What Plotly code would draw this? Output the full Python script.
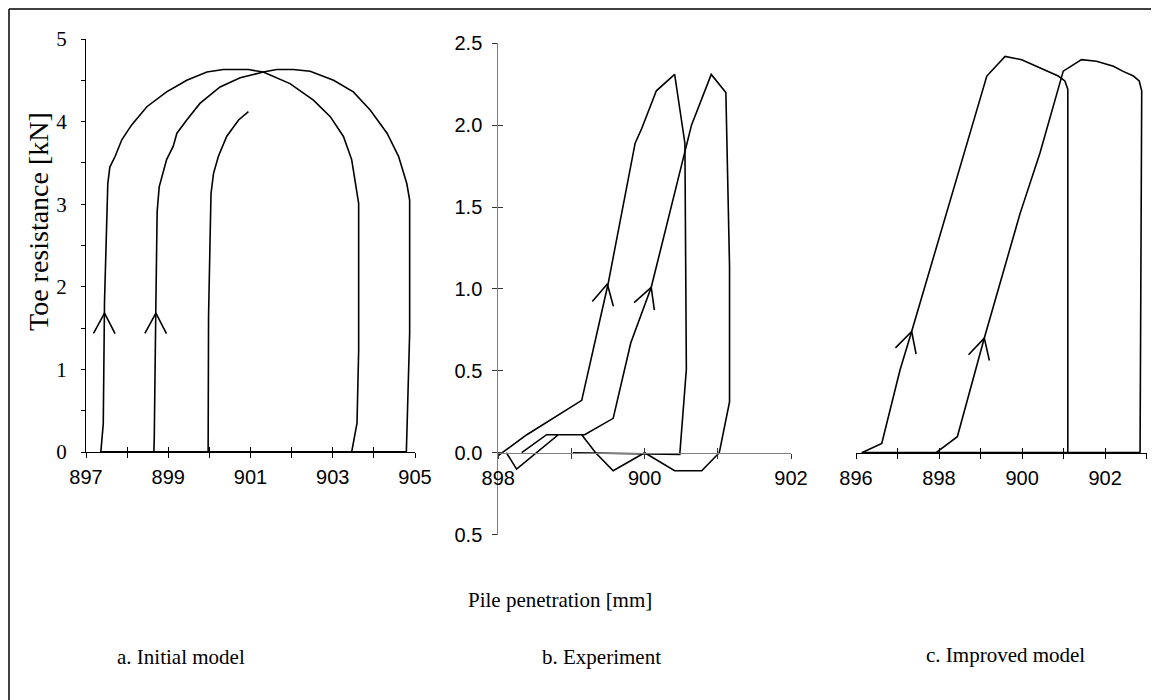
import numpy as np
import plotly.graph_objects as go

W, H = 1159, 700
OFF = 8  # page body margin in the browser

# ---------------- data (kN vs mm) ----------------
# a. Initial model
a1_x = [897.36, 897.38, 897.42, 897.45, 897.49, 897.53, 897.58, 897.71, 897.87, 898.11, 898.48, 898.96,
        899.45, 899.94, 900.34, 900.95, 901.31, 901.96, 902.53, 902.94, 903.26, 903.46, 903.63, 903.63,
        903.59, 903.46]
a1_y = [0, 0.10, 0.34, 1.82, 2.52, 3.25, 3.45, 3.58, 3.78, 3.96, 4.18, 4.36,
        4.50, 4.60, 4.63, 4.63, 4.60, 4.46, 4.26, 4.06, 3.82, 3.54, 3.01, 1.23,
        0.35, 0]
a2_x = [898.65, 898.66, 898.70, 898.73, 898.78, 898.86, 898.96, 899.12, 899.21, 899.45, 899.77, 900.26,
        900.75, 901.07, 901.31, 901.64, 902.04, 902.45, 903.02, 903.50, 903.91, 904.32, 904.60, 904.80,
        904.87, 904.87, 904.82, 904.79]
a2_y = [0, 0.18, 1.82, 2.91, 3.21, 3.37, 3.54, 3.70, 3.86, 4.02, 4.22, 4.42,
        4.53, 4.57, 4.60, 4.63, 4.63, 4.61, 4.50, 4.36, 4.14, 3.86, 3.58, 3.25,
        3.05, 1.44, 0.39, 0]
a3_x = [899.97, 899.98, 900.02, 900.04, 900.10, 900.22, 900.42, 900.71, 900.95]
a3_y = [0, 1.64, 2.65, 3.13, 3.37, 3.58, 3.82, 4.02, 4.12]
a_base_x = [897.36, 904.79]
a_base_y = [0, 0]
a_arrow_tips = [(897.45, 1.68, "a1"), (898.70, 1.68, "a2")]

# b. Experiment
b1_x = [897.93, 898.05, 898.39, 899.14, 899.50, 899.87, 899.96, 900.16, 900.41, 900.55, 900.57, 900.48, 899.02]
b1_y = [-0.04, 0.0, 0.11, 0.32, 1.03, 1.89, 1.98, 2.21, 2.31, 1.89, 0.51, -0.01, 0.0]
b2_x = [898.32, 898.66, 899.18, 899.57, 899.81, 900.09, 900.64, 900.91, 901.11, 901.16, 901.16, 901.02,
        900.78, 900.41, 900.00, 899.57, 899.33, 899.14, 898.82, 898.25, 898.11]
b2_y = [0.0, 0.11, 0.11, 0.21, 0.67, 1.01, 2.00, 2.31, 2.20, 1.14, 0.31, 0.0,
        -0.11, -0.11, 0.0, -0.11, 0.0, 0.11, 0.11, -0.10, 0.0]
b_arrow_tips = [(899.49, 1.03, "b1"), (900.09, 1.01, "b2")]

# c. Improved model
c1_x = [896.14, 896.62, 897.06, 897.34, 899.15, 899.59, 899.99, 900.63, 900.87, 901.03, 901.10, 901.10]
c1_y = [0, 0.057, 0.505, 0.74, 2.30, 2.42, 2.40, 2.33, 2.30, 2.27, 2.22, 0]
c2_x = [897.93, 898.44, 899.09, 899.95, 900.43, 900.99, 901.43, 901.79, 902.20, 902.42, 902.68, 902.82,
        902.88, 902.84]
c2_y = [0, 0.098, 0.70, 1.46, 1.83, 2.33, 2.40, 2.39, 2.36, 2.33, 2.30, 2.27,
        2.21, 0]
c_base_x = [896.14, 902.84]
c_base_y = [0, 0]
c_arrow_tips = [(897.34, 0.74, "c1"), (899.09, 0.70, "c2")]

# ticks
a_xticks = [897, 898, 899, 900, 901, 902, 903, 904, 905]
a_xlabels = ["897", "", "899", "", "901", "", "903", "", "905"]
a_yticks = [0, 0.5, 1, 1.5, 2, 2.5, 3, 3.5, 4, 4.5, 5]
a_ylabels = ["0", "", "1", "", "2", "", "3", "", "4", "", "5"]
b_xticks = [898, 899, 900, 901, 902]
b_xlabels = ["898", "", "900", "", "902"]
b_yticks = [-0.5, 0, 0.5, 1.0, 1.5, 2.0, 2.5]
b_ylabels = ["0.5", "0.0", "0.5", "1.0", "1.5", "2.0", "2.5"]
c_xticks = [896, 897, 898, 899, 900, 901, 902, 903]
c_xlabels = ["896", "", "898", "", "900", "", "902", ""]

# ---------------- geometry (screen pixels) ----------------
def px(x):
    return (x - OFF) / W


def py(y):
    return 1 - (y - OFF) / H


A_X = (86, 415)
A_Y = (452, 39)
B_X = (498.3, 791)
B_Y = (534.6, 43.3)
AXIS0_Y = 452.7
C_X = (856, 1146.7)

A_RANGE_X, A_RANGE_Y = [897, 905], [0, 5]
B_RANGE_X, B_RANGE_Y = [898, 902], [-0.5, 2.5]
C_RANGE_X, C_RANGE_Y = [896, 903], [-0.5, 2.5]


def scale(pxr, rng):
    return abs(pxr[1] - pxr[0]) / (rng[1] - rng[0])


sa = (scale(A_X, A_RANGE_X), scale(A_Y, A_RANGE_Y))
sb = (scale(B_X, B_RANGE_X), scale(B_Y, B_RANGE_Y))
sc = (scale(C_X, C_RANGE_X), scale(B_Y, C_RANGE_Y))


def arrow(cx, cy, tip, s, L=23, ang=28):
    sx, sy = s
    t = np.array([tip[0] * sx, tip[1] * sy])
    best = None
    for i in range(len(cx) - 1):
        p0 = np.array([cx[i] * sx, cy[i] * sy])
        p1 = np.array([cx[i + 1] * sx, cy[i + 1] * sy])
        d = p1 - p0
        dd = np.dot(d, d)
        if dd == 0:
            continue
        u = np.clip(np.dot(t - p0, d) / dd, 0, 1)
        dist = np.linalg.norm(p0 + u * d - t)
        if best is None or dist < best[0]:
            best = (dist, d)
    back = -best[1] / np.linalg.norm(best[1])
    xs, ys = [], []
    for sgn in (1, -1):
        a = np.radians(ang * sgn)
        r = np.array([back[0] * np.cos(a) - back[1] * np.sin(a),
                      back[0] * np.sin(a) + back[1] * np.cos(a)])
        e = t + L * r
        xs.append(e[0] / sx)
        ys.append(e[1] / sy)
    return [xs[0], tip[0], xs[1]], [ys[0], tip[1], ys[1]]


fig = go.Figure()


def add(x, y, xa, ya, w=1.6):
    fig.add_trace(go.Scatter(x=x, y=y, mode="lines", line=dict(color="black", width=w),
                             xaxis=xa, yaxis=ya, hoverinfo="skip", showlegend=False))


curves = {"a1": (a1_x, a1_y), "a2": (a2_x, a2_y), "b1": (b1_x, b1_y), "b2": (b2_x, b2_y),
          "c1": (c1_x, c1_y), "c2": (c2_x, c2_y)}

# panel a
add(a_base_x, a_base_y, "x", "y", 2)
for xx, yy in [(a1_x, a1_y), (a2_x, a2_y), (a3_x, a3_y)]:
    add(xx, yy, "x", "y")
for tx, ty, k in a_arrow_tips:
    ax_, ay_ = arrow(*curves[k], (tx, ty), sa)
    add(ax_, ay_, "x", "y")

# panel b
for xx, yy in [(b1_x, b1_y), (b2_x, b2_y)]:
    add(xx, yy, "x2", "y2")
for tx, ty, k in b_arrow_tips:
    ax_, ay_ = arrow(*curves[k], (tx, ty), sb)
    add(ax_, ay_, "x2", "y2")

# panel c
add(c_base_x, c_base_y, "x3", "y3", 2)
for xx, yy in [(c1_x, c1_y), (c2_x, c2_y)]:
    add(xx, yy, "x3", "y3")
for tx, ty, k in c_arrow_tips:
    ax_, ay_ = arrow(*curves[k], (tx, ty), sc)
    add(ax_, ay_, "x3", "y3")

# empty traces for tick-overlay axes
for xa, ya in [("x4", "y"), ("x5", "y2"), ("x6", "y3"), ("x2", "y4")]:
    fig.add_trace(go.Scatter(x=[None], y=[None], xaxis=xa, yaxis=ya, showlegend=False, hoverinfo="skip"))

SANS = "Liberation Sans, Arial, sans-serif"
SERIF = "Liberation Serif, Times New Roman, serif"
GRAY = "#808080"

base = dict(showgrid=False, zeroline=False, showline=True, linewidth=1, ticks="outside",
            ticklen=5, tickwidth=1, fixedrange=True, automargin=False)
inner = dict(showgrid=False, zeroline=False, showline=False, ticks="inside", ticklen=5,
             tickwidth=1, showticklabels=False, fixedrange=True, automargin=False)

fig.update_layout(
    template="none",
    width=W, height=H, margin=dict(l=0, r=0, t=0, b=0, pad=0, autoexpand=False),
    paper_bgcolor="white", plot_bgcolor="rgba(0,0,0,0)", showlegend=False,
    xaxis=dict(**base, domain=[px(A_X[0]), px(A_X[1])], range=A_RANGE_X, anchor="y",
               tickmode="array", tickvals=a_xticks, ticktext=a_xlabels, linecolor="black",
               tickcolor="black", ticklabelstandoff=2,
               tickfont=dict(family=SANS, size=20, color="black")),
    yaxis=dict(**{**base, "ticklen": 4}, domain=[py(A_Y[0]), py(A_Y[1])], range=A_RANGE_Y, anchor="x",
               tickmode="array", tickvals=a_yticks, ticktext=a_ylabels, linecolor="black",
               tickcolor="black", ticklabelstandoff=10,
               tickfont=dict(family=SERIF, size=21, color="black")),
    xaxis2=dict(**base, domain=[px(B_X[0]), px(B_X[1])], range=B_RANGE_X, anchor="free",
                position=py(AXIS0_Y), tickmode="array", tickvals=b_xticks, ticktext=b_xlabels,
                linecolor=GRAY, tickcolor="#333", ticklabelstandoff=2,
                tickfont=dict(family=SANS, size=20, color="black")),
    yaxis2=dict(**base, domain=[py(B_Y[0]), py(B_Y[1])], range=B_RANGE_Y, anchor="x2",
                tickmode="array", tickvals=b_yticks, ticktext=b_ylabels, linecolor=GRAY,
                tickcolor="#333", ticklabelstandoff=6,
                tickfont=dict(family=SANS, size=20, color="black")),
    xaxis3=dict(**base, domain=[px(C_X[0]), px(C_X[1])], range=C_RANGE_X, anchor="free",
                position=py(AXIS0_Y), tickmode="array", tickvals=c_xticks, ticktext=c_xlabels,
                linecolor="black", tickcolor="black", ticklabelstandoff=2,
                tickfont=dict(family=SANS, size=20, color="black")),
    yaxis3=dict(domain=[py(B_Y[0]), py(B_Y[1])], range=C_RANGE_Y, anchor="x3", visible=False,
                fixedrange=True, automargin=False),
    xaxis4=dict(**inner, overlaying="x", anchor="y", range=A_RANGE_X, tickmode="array",
                tickvals=a_xticks, tickcolor="black"),
    xaxis5=dict(**inner, overlaying="x2", anchor="free", position=py(AXIS0_Y), range=B_RANGE_X,
                tickmode="array", tickvals=b_xticks, tickcolor="#333"),
    xaxis6=dict(**inner, overlaying="x3", anchor="free", position=py(AXIS0_Y), range=C_RANGE_X,
                tickmode="array", tickvals=c_xticks, tickcolor="black"),
    yaxis4=dict(**inner, overlaying="y2", anchor="x2", range=B_RANGE_Y, tickmode="array",
                tickvals=b_yticks, tickcolor="#333"),
)

ann = [
    dict(text="Toe resistance [kN]", x=px(38), y=py(222), textangle=-90, font=dict(family=SERIF, size=28, color="black")),
    dict(text="Pile penetration [mm]", x=px(560), y=py(600), font=dict(family=SERIF, size=21, color="black")),
    dict(text="a. Initial model", x=px(181), y=py(657), font=dict(family=SERIF, size=21, color="black")),
    dict(text="b. Experiment", x=px(601), y=py(657), font=dict(family=SERIF, size=21, color="black")),
    dict(text="c. Improved model", x=px(1005), y=py(655), font=dict(family=SERIF, size=21, color="black")),
]
for a in ann:
    fig.add_annotation(xref="paper", yref="paper", showarrow=False, xanchor="center", yanchor="middle",
                       **a)

fig.add_shape(type="line", xref="paper", yref="paper", x0=px(9), y0=py(9), x1=1, y1=py(9),
              line=dict(color="black", width=1.5))
fig.add_shape(type="line", xref="paper", yref="paper", x0=px(9), y0=py(9), x1=px(9), y1=0,
              line=dict(color="black", width=1.5))

fig.write_html("out.html")
